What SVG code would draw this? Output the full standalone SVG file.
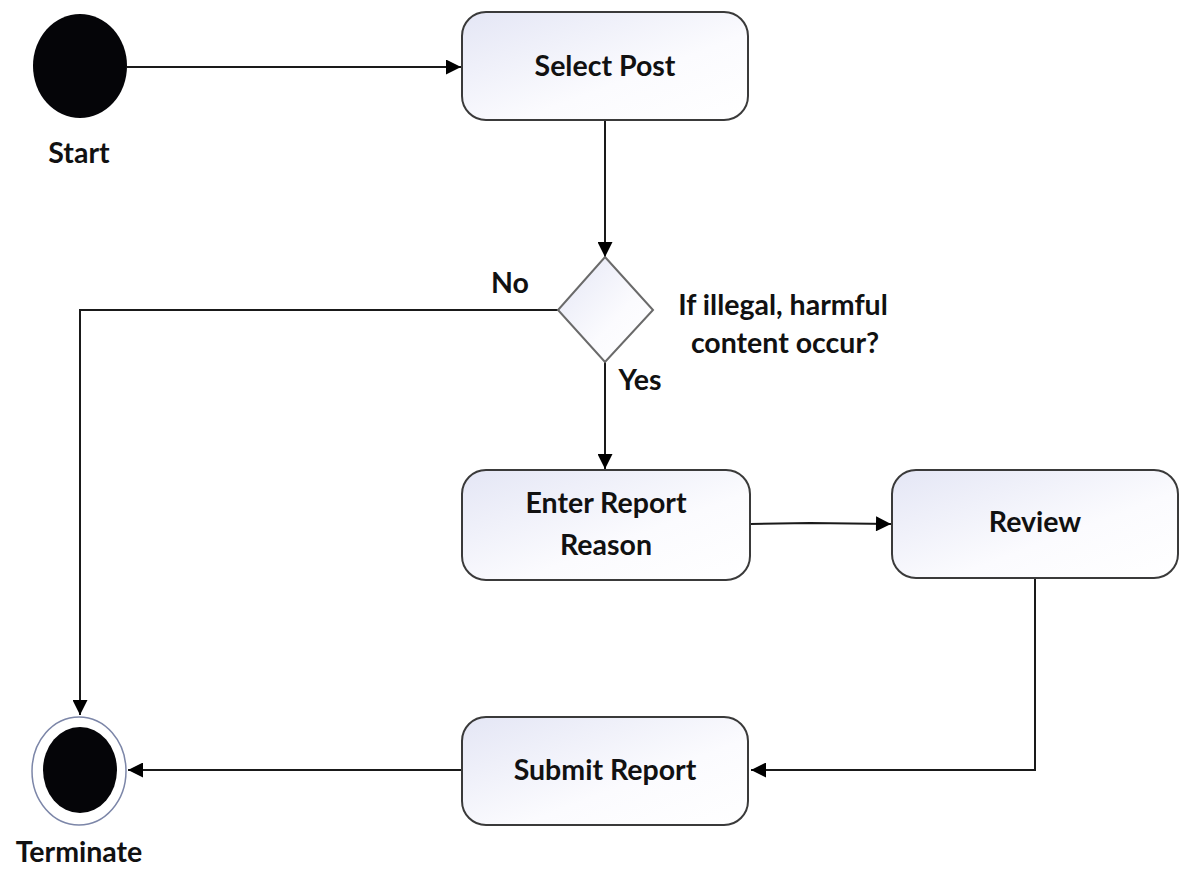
<svg xmlns="http://www.w3.org/2000/svg" width="1181" height="875" viewBox="0 0 1181 875">
  <style>
    .box { stroke: #3a3a3a; stroke-width: 2; fill: url(#boxFill); }
    .diamond { stroke: #6a6a6a; stroke-width: 2; fill: url(#boxFill); }
    .label { font-family: Lato, "Liberation Sans", sans-serif; font-weight: bold; font-size: 28.5px; fill: #111111; text-anchor: middle; }
    .edge { stroke: #1a1a1a; stroke-width: 2; fill: none; marker-end: url(#arrow); }
  </style>
  <defs>
    <linearGradient id="boxFill" x1="0" y1="0" x2="1" y2="1">
      <stop offset="0" stop-color="#e4e6f5"/>
      <stop offset="0.6" stop-color="#fbfbfe"/>
      <stop offset="1" stop-color="#ffffff"/>
    </linearGradient>
    <marker id="arrow" viewBox="0 0 10 10" refX="10" refY="5" markerWidth="17" markerHeight="15" markerUnits="userSpaceOnUse" orient="auto">
      <path d="M0,0 L10,5 L0,10 z" fill="#000"/>
    </marker>
  </defs>

  <rect width="1181" height="875" fill="#ffffff"/>

  <!-- connectors -->
  <g id="connectors">
    <line class="edge" x1="127" y1="67" x2="461" y2="67"/>
    <line class="edge" x1="605" y1="121" x2="605" y2="257"/>
    <polyline class="edge" points="558,310 80,310 80,715"/>
    <line class="edge" x1="605" y1="362" x2="605" y2="469"/>
    <polyline class="edge" points="750,524 810,523 891,524"/>
    <polyline class="edge" points="1035,579 1035,770 751,770"/>
    <line class="edge" x1="461" y1="770" x2="128" y2="770"/>
  </g>

  <!-- initial node -->
  <g id="start">
    <ellipse cx="80" cy="66" rx="47" ry="52" fill="#050508"/>
    <text class="label" x="79" y="163">Start</text>
  </g>

  <g id="select-post">
    <rect class="box" x="462" y="12" width="286" height="108" rx="24"/>
    <text class="label" x="605" y="76">Select Post</text>
  </g>

  <g id="decision">
    <polygon class="diamond" points="605,257 653,310 605,362 558,310"/>
    <text class="label" x="510" y="293">No</text>
    <text class="label" x="783" y="315">If illegal, harmful</text>
    <text class="label" x="785" y="353">content occur?</text>
    <text class="label" x="640" y="390">Yes</text>
  </g>

  <g id="enter-report-reason">
    <rect class="box" x="462" y="470" width="288" height="110" rx="24"/>
    <text class="label" x="606" y="513">Enter Report</text>
    <text class="label" x="606" y="555">Reason</text>
  </g>

  <g id="review">
    <rect class="box" x="892" y="470" width="286" height="108" rx="24"/>
    <text class="label" x="1035" y="532">Review</text>
  </g>

  <g id="submit-report">
    <rect class="box" x="462" y="717" width="286" height="108" rx="24"/>
    <text class="label" x="605" y="780">Submit Report</text>
  </g>

  <!-- final node -->
  <g id="terminate">
    <ellipse cx="79" cy="771" rx="47" ry="54" fill="#ffffff" stroke="#7c86a8" stroke-width="1.5"/>
    <ellipse cx="80" cy="770" rx="37" ry="43" fill="#050508"/>
    <text class="label" x="79" y="862">Terminate</text>
  </g>
</svg>
